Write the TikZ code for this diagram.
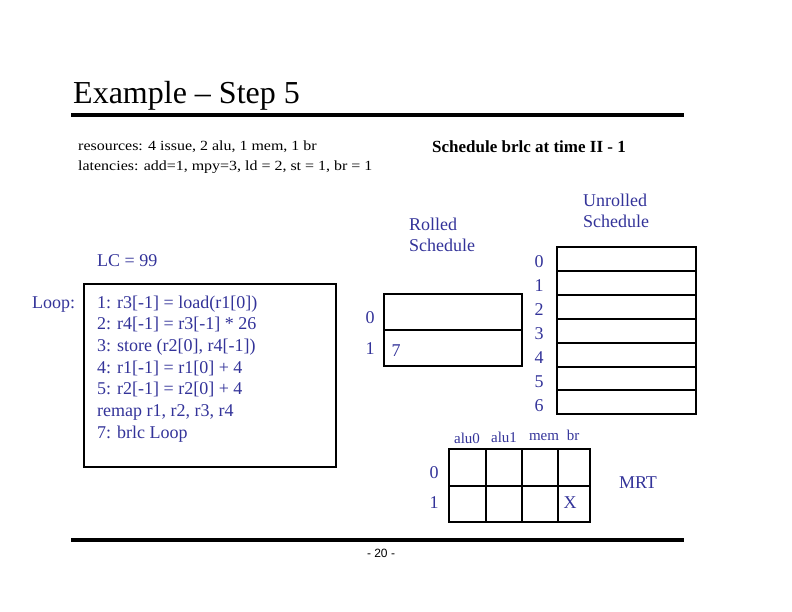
\documentclass[tikz,border=0pt]{standalone}
\usepackage{fontspec}
\setmainfont{Liberation Serif}
\setsansfont{Liberation Sans}
\newfontfamily\widefont[FakeStretch=1.14]{Liberation Serif}
\usepackage{xcolor}
\usetikzlibrary{positioning}
\definecolor{codeblue}{RGB}{51,51,153}

\begin{document}
\begin{tikzpicture}[x=1pt, y=-1pt, every node/.style={inner sep=0pt},
    box/.style={line width=2pt},
    bluetext/.style={text=codeblue, font=\fontsize{18}{21}\selectfont, anchor=base west},
    digit/.style={text=codeblue, font=\fontsize{18}{21}\selectfont},
    unitlbl/.style={text=codeblue, font=\fontsize{15}{18}\selectfont}]
        \useasboundingbox (0,0) rectangle (792,612);

        % heading
        \node[anchor=base west, font=\fontsize{32}{36}\selectfont] (title) at (73,104) {Example -- Step 5};
        \draw[line width=4pt] (71,115) -- (684,115);

        \node[anchor=base west, font=\widefont\fontsize{14}{16}\selectfont] (resources) at (78,151) {resources: 4 issue, 2 alu, 1 mem, 1 br};
        \node[anchor=base west, font=\widefont\fontsize{14}{16}\selectfont] (latencies) at (78,171) {latencies: add=1, mpy=3, ld = 2, st = 1, br = 1};
        \node[anchor=base west, font=\bfseries\fontsize{17}{20}\selectfont] (goal) at (432,153) {Schedule brlc at time II - 1};

        % loop body
        \node[bluetext] (lc) at (97,267) {LC = 99};
        \node[bluetext] (looplbl) at (32,308) {Loop:};
        \draw[box] (84,284) rectangle (336,467);
        \foreach \i/\txt in {0/{1: r3[-1] = load(r1[0])}, 1/{2: r4[-1] = r3[-1] * 26},
            2/{3: store (r2[0], r4[-1])}, 3/{4: r1[-1] = r1[0] + 4},
            4/{5: r2[-1] = r2[0] + 4}, 5/{remap r1, r2, r3, r4}, 6/{7: brlc Loop}} {
          \node[bluetext] (code\i) at (97,{308+21.67*\i}) {\txt};
        }

        % rolled schedule
        \node[bluetext] (rolled) at (409,231) {Rolled};
        \node[bluetext] (rolledsub) at (409,252) {Schedule};
        \draw[box] (384,294) rectangle (522,366);
        \draw[box] (384,330) -- (522,330);
        \node[digit] (r0) at (370,318) {0};
        \node[digit] (r1) at (370,349) {1};
        \node[digit] (r7) at (396,351) {7};

        % unrolled schedule
        \node[bluetext] (unrolled) at (583,207) {Unrolled};
        \node[bluetext] (unrolledsub) at (583,228) {Schedule};
        \foreach \i in {0,...,6} {
          \draw[box] (557,{247+23.9*\i}) rectangle (696,{247+23.9*(\i+1)});
          \node[digit] (u\i) at (539,{262+24*\i}) {\i};
        }

        % MRT
        \foreach \x/\w in {449/37, 486/36, 522/36, 558/32} {
          \draw[box] (\x,449) rectangle ({\x+\w},486);
          \draw[box] (\x,486) rectangle ({\x+\w},522);
        }
        \node[unitlbl] (alu0) at (467,438) {alu0};
        \node[unitlbl] (alu1) at (504,437) {alu1};
        \node[unitlbl] (mem) at (544,437) {mem};
        \node[unitlbl] (br) at (573,435) {br};
        \node[digit] (m0) at (434,473) {0};
        \node[digit] (m1) at (434,503) {1};
        \node[digit] (mx) at (570,503) {X};
        \node[digit] (mrt) at (638,483) {MRT};

        % footer
        \draw[line width=4pt] (71,540) -- (684,540);
        \node[font=\sffamily\fontsize{12}{14}\selectfont] (page) at (381,553) {- 20 -};
      \end{tikzpicture}
\end{document}
